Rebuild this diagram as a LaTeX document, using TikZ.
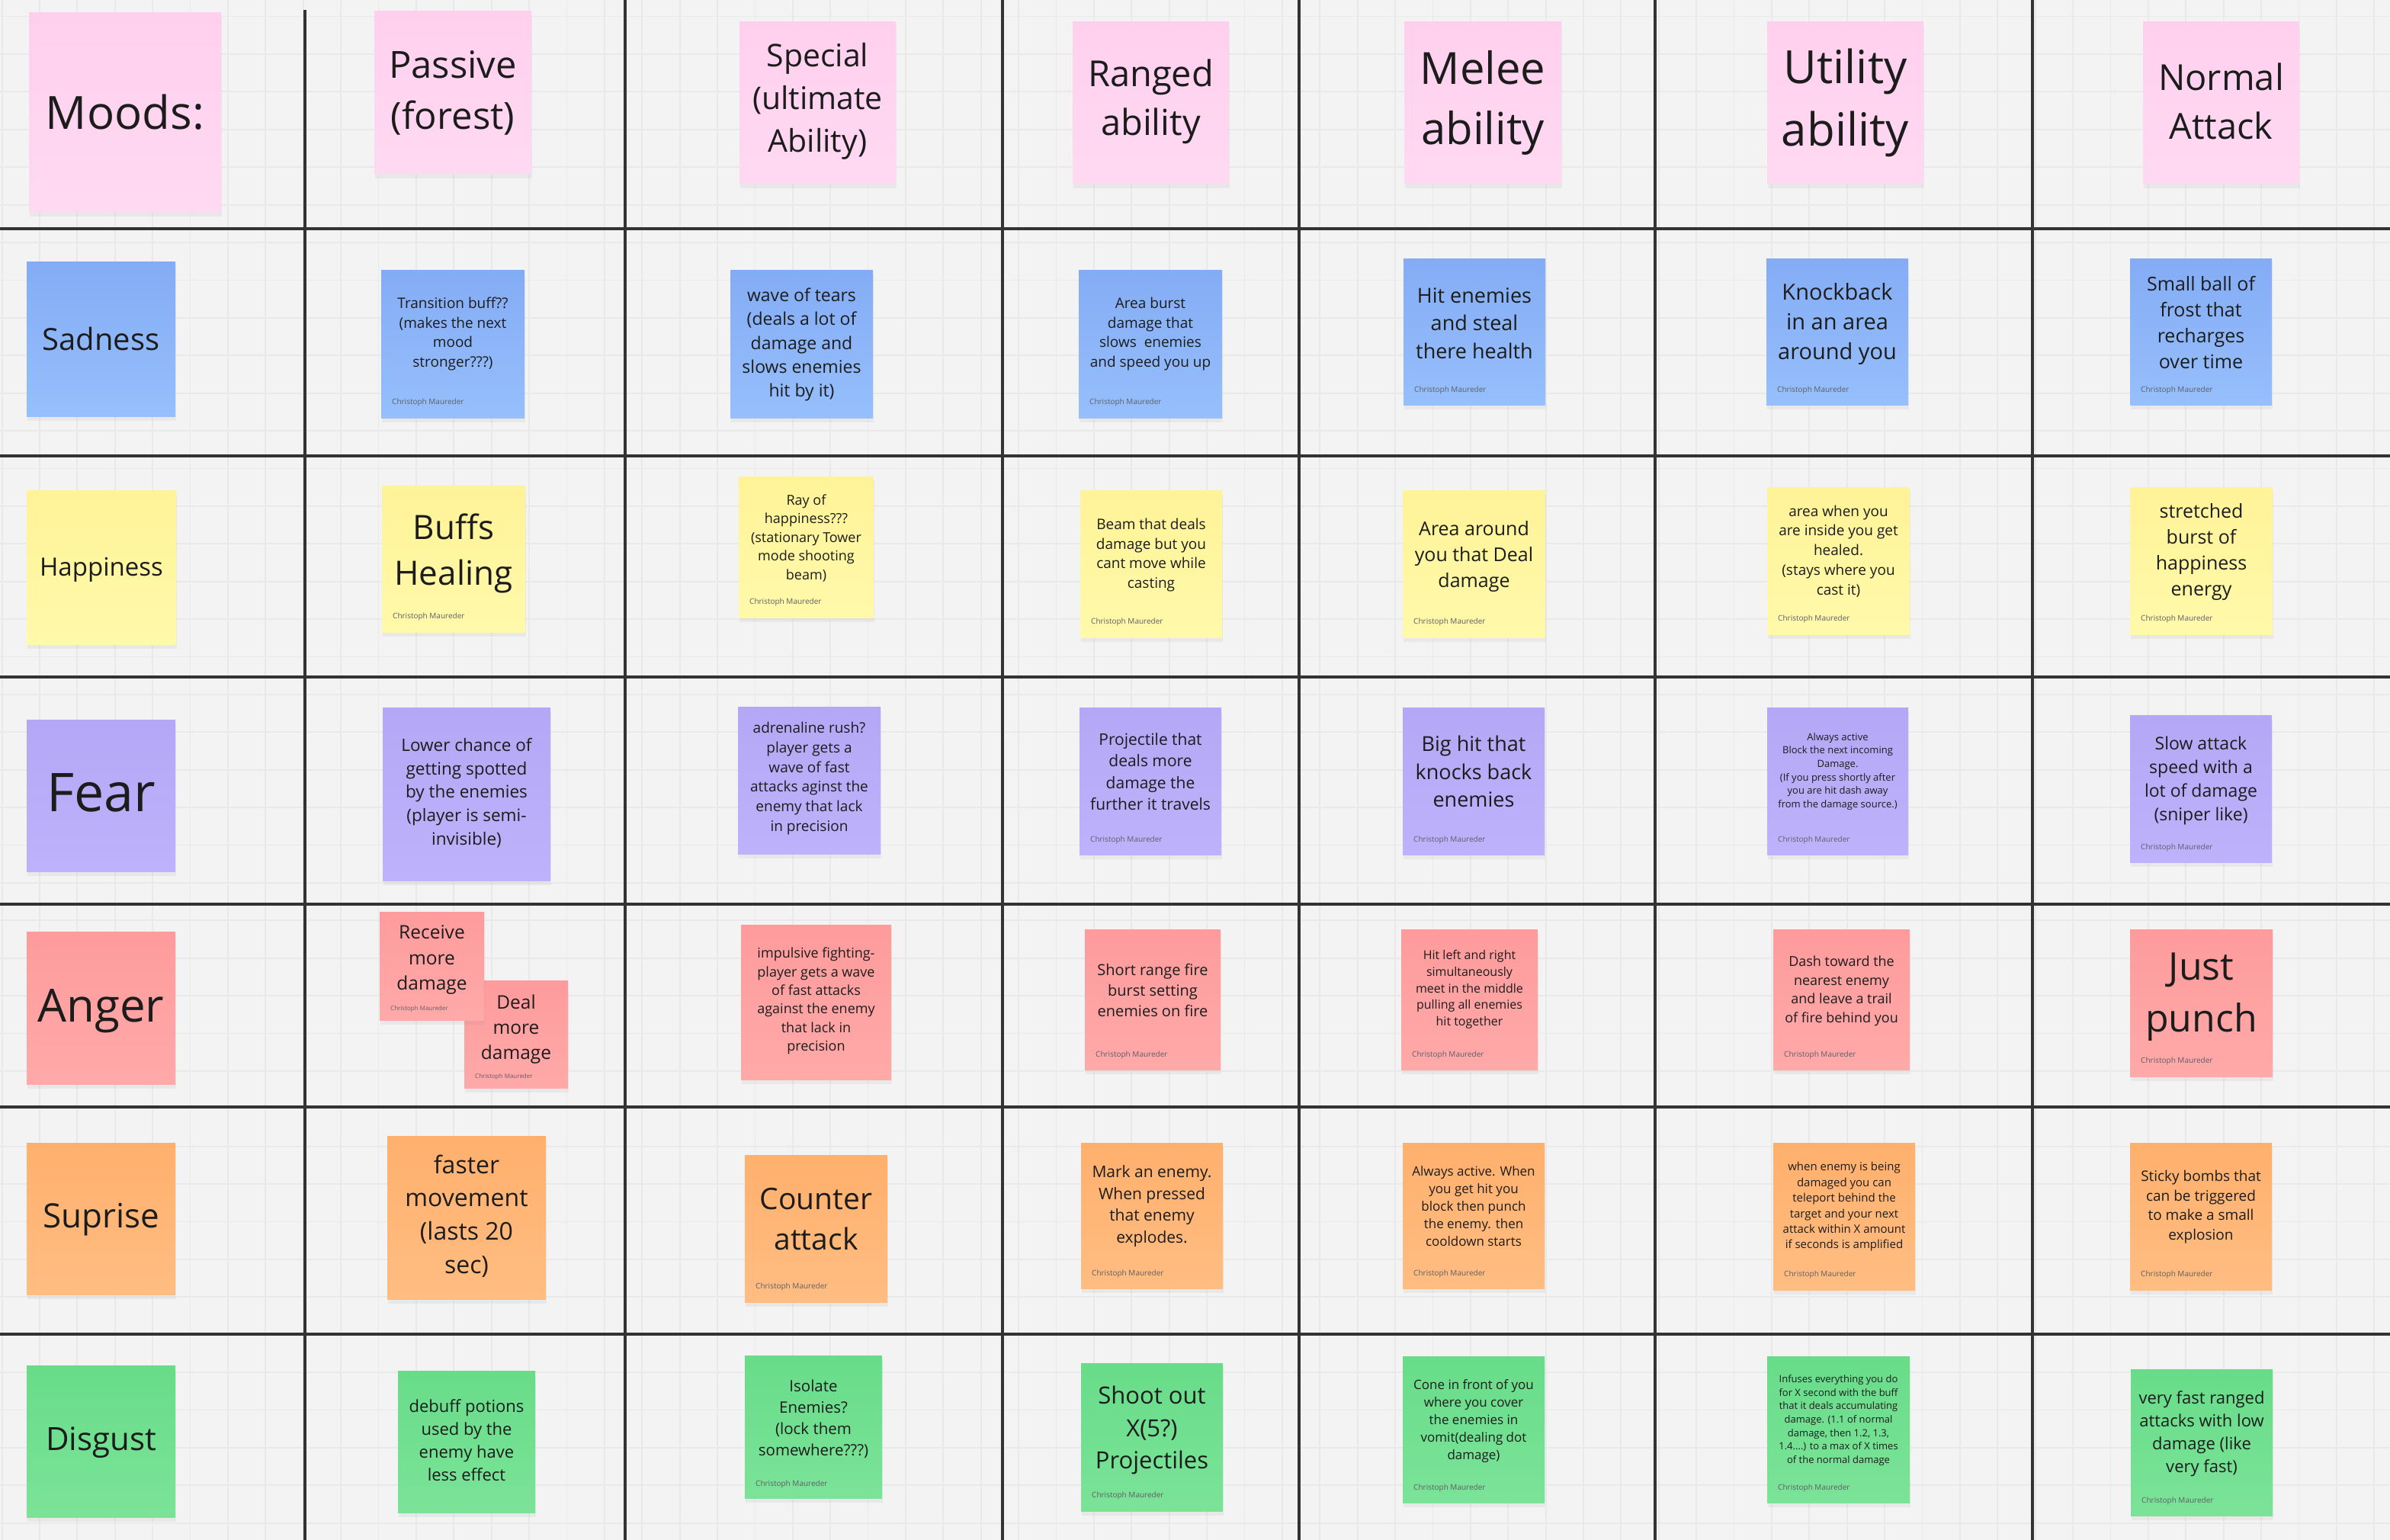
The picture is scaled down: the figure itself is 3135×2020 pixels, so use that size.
\documentclass[tikz,border=0pt]{standalone}
\usepackage{fontspec}
\setmainfont{Open Sans}
\usetikzlibrary{shadows}
\definecolor{bgc}{HTML}{F3F3F3}
\definecolor{gridc}{HTML}{E9E9E9}
\definecolor{rulec}{HTML}{333333}
\definecolor{ink}{HTML}{1C1C1C}
\definecolor{bylinec}{HTML}{5E5E66}
\definecolor{pinktop}{HTML}{FFD0EE}\definecolor{pinkbot}{HTML}{FFD9F2}
\definecolor{bluetop}{HTML}{84ACF5}\definecolor{bluebot}{HTML}{96BFFC}
\definecolor{yellowtop}{HTML}{FFF398}\definecolor{yellowbot}{HTML}{FFF9AA}
\definecolor{purpletop}{HTML}{B4A7F5}\definecolor{purplebot}{HTML}{BEB2FC}
\definecolor{redtop}{HTML}{FE9B9C}\definecolor{redbot}{HTML}{FFA9A9}
\definecolor{orangetop}{HTML}{FFB06D}\definecolor{orangebot}{HTML}{FFBD82}
\definecolor{greentop}{HTML}{68DC89}\definecolor{greenbot}{HTML}{7BE398}
\newcommand\fs[1]{\fontsize{#1}{\fpeval{round(1.36*#1,2)}}\selectfont}
\tikzset{
  notebox/.style={draw=none, inner sep=0pt, outer sep=0pt,
    drop shadow={shadow xshift=1pt, shadow yshift=-6pt, opacity=0.09}},
  notetext/.style={align=center, inner sep=0pt, text=ink},
  byline/.style={anchor=west, inner sep=0pt, text=bylinec},
  gridline/.style={draw=gridc, line width=1.8pt},
  rule/.style={draw=rulec, line width=4.6pt},
}
% #1 name, #2 x1, #3 y1, #4 x2, #5 y2, #6 colour, #7 font size, #8 text centre y, #9 text
\newcommand\stickynote[9]{%
  \pgfmathsetmacro\notew{#4-#2}\pgfmathsetmacro\noteh{#5-#3}%
  \node[notebox, top color=#6top, bottom color=#6bot, minimum width=\notew pt,
        minimum height=\noteh pt, anchor=north west] (#1) at (#2,#3) {};
  \node[notetext, font=\fs{#7}] (#1-t) at ({(#2+#4)/2},#8) {#9};
}
% #1 name, #2 card x1, #3 y, #4 size
\newcommand\byline[4]{%
  \node[byline, font=\fs{#4}] (#1-a) at ({#2+14},#3) {Christoph Maureder};
}
\begin{document}
\begin{tikzpicture}[x=1pt,y=-1pt]
\useasboundingbox (0,0) rectangle (3135,2020);
\fill[bgc] (0,0) rectangle (3135,2020);
% background grid
\foreach \k in {0,...,63} { \draw[gridline] ({2.6+49.39*\k},0) -- ({2.6+49.39*\k},2020); }
\foreach \k in {0,...,40} { \draw[gridline] (0,{21.6+49.4*\k}) -- (3135,{21.6+49.4*\k}); }
% table rules
\foreach \yy in {300,598,888,1186,1452,1750} { \draw[rule] (0,\yy) -- (3135,\yy); }
\draw[rule] (400,13) -- (400,2020);
\foreach \xx in {820,1315,1704,2171,2666} { \draw[rule] (\xx,0) -- (\xx,2020); }

% header row
\stickynote{moods}{38}{17}{290}{278}{pink}{60}{147}{Moods:}
\stickynote{passive}{491}{15}{697}{228}{pink}{49}{122}{Passive\\(forest)}
\stickynote{special}{970}{29}{1175}{241}{pink}{41}{133}{Special\\(ultimate\\Ability)}
\stickynote{ranged}{1407}{29}{1612}{241}{pink}{47}{133}{Ranged\\ability}
\stickynote{melee}{1842}{29}{2048}{241}{pink}{58}{135}{Melee\\ability}
\stickynote{utility}{2318}{29}{2523}{241}{pink}{60}{135}{Utility\\ability}
\stickynote{normal}{2811}{29}{3016}{241}{pink}{47}{133}{Normal\\Attack}

% mood labels
\stickynote{sadness}{35}{343}{230}{546}{blue}{40}{444}{Sadness}
\stickynote{happiness}{35}{643}{231}{845}{yellow}{33}{747}{Happiness}
\stickynote{fear}{35}{944}{230}{1143}{purple}{70}{1040}{Fear}
\stickynote{anger}{35}{1222}{230}{1422}{red}{60}{1326}{Anger}
\stickynote{suprise}{35}{1499}{230}{1698}{orange}{44}{1600}{Suprise}
\stickynote{disgust}{35}{1791}{230}{1990}{green}{42}{1892}{Disgust}

% sadness row
\stickynote{s1}{500}{354}{688}{548}{blue}{19}{438}{Transition buff??\\(makes the next\\mood\\stronger???)}
\byline{s1}{500}{528}{10}
\stickynote{s2}{958}{354}{1145}{548}{blue}{23}{452}{wave of tears\\(deals a lot of\\damage and\\slows enemies\\hit by it)}
\stickynote{s3}{1415}{354}{1603}{548}{blue}{19}{438}{Area burst\\damage that\\slows\ \ enemies\\and speed you up}
\byline{s3}{1415}{528}{10}
\stickynote{s4}{1841}{339}{2027}{531}{blue}{27}{424}{Hit enemies\\and steal\\there health}
\byline{s4}{1841}{512}{10}
\stickynote{s5}{2317}{339}{2503}{531}{blue}{29}{425}{Knockback\\in an area\\around you}
\byline{s5}{2317}{512}{10}
\stickynote{s6}{2794}{339}{2980}{531}{blue}{25}{423}{Small ball of\\frost that\\recharges\\over time}
\byline{s6}{2794}{512}{10}

% happiness row
\stickynote{y1}{501}{637}{689}{829}{yellow}{44}{726}{Buffs\\Healing}
\byline{y1}{501}{809}{10}
\stickynote{y2}{969}{625}{1146}{810}{yellow}{18}{706}{Ray of\\happiness???\\(stationary Tower\\mode shooting\\beam)}
\byline{y2}{969}{790}{10}
\stickynote{y3}{1417}{643}{1603}{836}{yellow}{19}{728}{Beam that deals\\damage but you\\cant move while\\casting}
\byline{y3}{1417}{816}{10}
\stickynote{y4}{1840}{643}{2027}{836}{yellow}{25}{730}{Area around\\you that Deal\\damage}
\byline{y4}{1840}{816}{10}
\stickynote{y5}{2318}{639}{2505}{832}{yellow}{19}{723}{area when you\\are inside you get\\healed.\\(stays where you\\cast it)}
\byline{y5}{2318}{812}{10}
\stickynote{y6}{2794}{639}{2981}{832}{yellow}{25}{724}{stretched\\burst of\\happiness\\energy}
\byline{y6}{2794}{812}{10}

% fear row
\stickynote{f1}{502}{928}{722}{1155}{purple}{22.5}{1040}{Lower chance of\\getting spotted\\by the enemies\\(player is semi-\\invisible)}
\stickynote{f2}{968}{927}{1155}{1120}{purple}{19}{1021}{adrenaline rush?\\player gets a\\wave of fast\\attacks aginst the\\enemy that lack\\in precision}
\stickynote{f3}{1416}{928}{1602}{1121}{purple}{21}{1012}{Projectile that\\deals more\\damage the\\further it travels}
\byline{f3}{1416}{1102}{10}
\stickynote{f4}{1840}{928}{2026}{1121}{purple}{27}{1012}{Big hit that\\knocks back\\enemies}
\byline{f4}{1840}{1102}{10}
\stickynote{f5}{2318}{928}{2503}{1121}{purple}{13}{1012}{Always active\\Block the next incoming\\Damage.\\(If you press shortly after\\you are hit dash away\\from the damage source.)}
\byline{f5}{2318}{1102}{10}
\stickynote{f6}{2794}{938}{2980}{1131}{purple}{23}{1024}{Slow attack\\speed with a\\lot of damage\\(sniper like)}
\byline{f6}{2794}{1112}{10}

% anger row
\stickynote{a1b}{609}{1286}{745}{1427}{red}{24.5}{1350}{Deal\\more\\damage}
\byline{a1b}{609}{1412}{8}
\stickynote{a1a}{498}{1196}{635}{1338}{red}{24.5}{1259}{Receive\\more\\damage}
\byline{a1a}{498}{1323}{8}
\stickynote{a2}{972}{1213}{1169}{1416}{red}{18}{1313}{impulsive fighting-\\player gets a wave\\of fast attacks\\against the enemy\\that lack in\\precision}
\stickynote{a3}{1423}{1219}{1601}{1403}{red}{20}{1299}{Short range fire\\burst setting\\enemies on fire}
\byline{a3}{1423}{1384}{10}
\stickynote{a4}{1838}{1219}{2017}{1403}{red}{16}{1298}{Hit left and right\\simultaneously\\meet in the middle\\pulling all enemies\\hit together}
\byline{a4}{1838}{1384}{10}
\stickynote{a5}{2326}{1219}{2505}{1403}{red}{18}{1300}{Dash toward the\\nearest enemy\\and leave a trail\\of fire behind you}
\byline{a5}{2326}{1384}{10}
\stickynote{a6}{2794}{1219}{2981}{1412}{red}{50}{1308}{Just\\punch}
\byline{a6}{2794}{1392}{10}

% suprise row
\stickynote{u1}{508}{1490}{716}{1704}{orange}{32}{1595}{faster\\movement\\(lasts 20\\sec)}
\stickynote{u2}{977}{1515}{1164}{1708}{orange}{39}{1599}{Counter\\attack}
\byline{u2}{977}{1688}{10}
\stickynote{u3}{1418}{1499}{1604}{1690}{orange}{21}{1582}{Mark an enemy.\\When pressed\\that enemy\\explodes.}
\byline{u3}{1418}{1671}{10}
\stickynote{u4}{1840}{1499}{2026}{1690}{orange}{17}{1582}{Always active. When\\you get hit you\\block then punch\\the enemy. then\\cooldown starts}
\byline{u4}{1840}{1671}{10}
\stickynote{u5}{2326}{1499}{2512}{1692}{orange}{15}{1583}{when enemy is being\\damaged you can\\teleport behind the\\target and your next\\attack within X amount\\if seconds is amplified}
\byline{u5}{2326}{1672}{10}
\stickynote{u6}{2794}{1499}{2980}{1692}{orange}{19}{1583}{Sticky bombs that\\can be triggered\\to make a small\\explosion}
\byline{u6}{2794}{1672}{10}

% disgust row
\stickynote{d1}{522}{1798}{702}{1984}{green}{22}{1889}{debuff potions\\used by the\\enemy have\\less effect}
\stickynote{d2}{977}{1778}{1157}{1965}{green}{20.5}{1861}{Isolate\\Enemies?\\(lock them\\somewhere???)}
\byline{d2}{977}{1947}{10}
\stickynote{d3}{1418}{1788}{1604}{1982}{green}{31}{1876}{Shoot out\\X(5?)\\Projectiles}
\byline{d3}{1418}{1962}{10}
\stickynote{d4}{1840}{1779}{2026}{1971}{green}{17}{1864}{Cone in front of you\\where you cover\\the enemies in\\vomit(dealing dot\\damage)}
\byline{d4}{1840}{1952}{10}
\stickynote{d5}{2318}{1779}{2505}{1971}{green}{13}{1863}{Infuses everything you do\\for X second with the buff\\that it deals accumulating\\damage. (1.1 of normal\\damage, then 1.2, 1.3,\\1.4....) to a max of X times\\of the normal damage}
\byline{d5}{2318}{1952}{10}
\stickynote{d6}{2795}{1796}{2981}{1988}{green}{22}{1881}{very fast ranged\\attacks with low\\damage (like\\very fast)}
\byline{d6}{2795}{1969}{10}
\end{tikzpicture}
\end{document}
